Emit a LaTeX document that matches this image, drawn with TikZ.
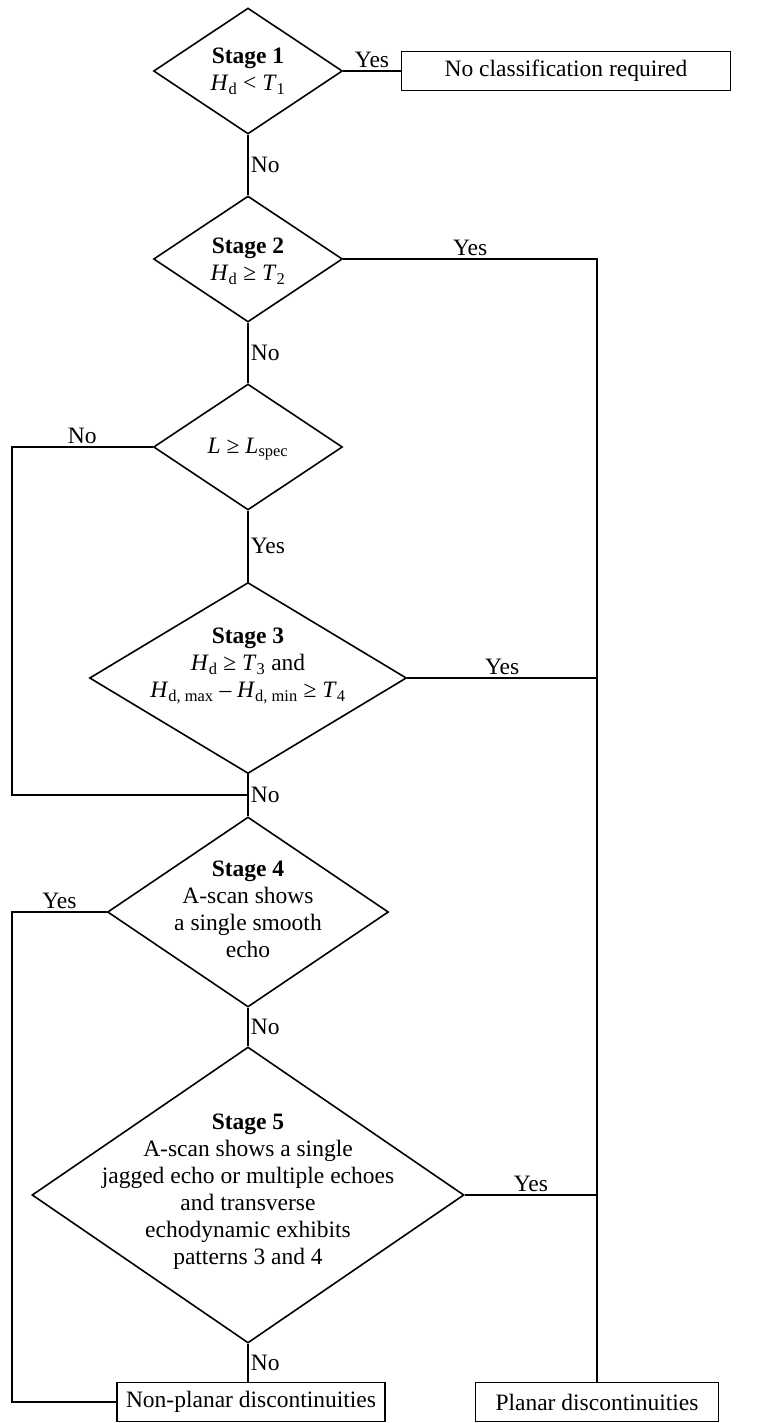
\documentclass[tikz,border=0pt]{standalone}
\usepackage{fontspec}
\setmainfont{Liberation Serif}
\usetikzlibrary{shapes.geometric,positioning,calc}
\newcommand{\vsym}[2]{\textit{#1}\textsubscript{#2}}

\begin{document}
\begin{tikzpicture}[x=1pt,y=-1pt]
            \tikzset{every node/.style={font=\fontsize{23.5}{27}\selectfont},
                     decision/.style={draw, diamond, inner sep=0pt, line width=1.6pt},
                     outcome/.style={draw, rectangle, line width=1.6pt, minimum height=39pt, inner sep=0pt},
                     flow/.style={line width=1.6pt},
                     ans/.style={inner sep=2pt}}
            \useasboundingbox (0,0) rectangle (767,1423);

            % decisions
            \node[decision, minimum width=189pt, minimum height=126pt] (s1) at (248,71) {};
            \node[align=center] (s1txt) at (248,71) {\textbf{Stage 1}\\ \vsym{H}{d} < \vsym{T}{1}};
            \node[decision, minimum width=189pt, minimum height=126pt] (s2) at (248,259) {};
            \node[align=center] (s2txt) at (248,261) {\textbf{Stage 2}\\ \vsym{H}{d} ≥ \vsym{T}{2}};
            \node[decision, minimum width=189pt, minimum height=126pt] (len) at (248,447) {};
            \node (lentxt) at (248,449) {\textit{L} ≥ \vsym{L}{spec}};
            \node[decision, minimum width=317pt, minimum height=191pt] (s3) at (248,678) {};
            \node[align=center] (s3txt) at (248,666) {\textbf{Stage 3}\\ \vsym{H}{d} ≥ \vsym{T}{3} and\\ \vsym{H}{d, max} – \vsym{H}{d, min} ≥ \vsym{T}{4}};
            \node[decision, minimum width=281pt, minimum height=190pt] (s4) at (248,912) {};
            \node[align=center] (s4txt) at (248,909) {\textbf{Stage 4}\\ A-scan shows\\ a single smooth\\ echo};
            \node[decision, minimum width=432pt, minimum height=296pt] (s5) at (248,1195) {};
            \node[align=center] (s5txt) at (248,1192) {\textbf{Stage 5}\\ A-scan shows a single\\ jagged echo or multiple echoes\\ and transverse\\ echodynamic exhibits\\ patterns 3 and 4};

            % outcomes
            \node[outcome, minimum width=329pt] (none) at (566,71) {No classification required};
            \node[outcome, minimum width=268pt] (nonplanar) at (251,1402) {Non-planar discontinuities};
            \node[outcome, minimum width=243pt] (planar) at (597,1402) {Planar discontinuities};

            \coordinate (j3) at ($(s3.south)!0.5!(s4.north)$);
            \coordinate (west) at (12,0);

            % connectors
            \draw[flow] (s1.east) -- node[ans, above] {Yes} (none.west);
            \draw[flow] (s1.south) -- node[ans, right] {No} (s2.north);
            \draw[flow] (s2.east) -| node[ans, above, pos=0.25] {Yes} (planar.north);
            \draw[flow] (s2.south) -- node[ans, right] {No} (len.north);
            \draw[flow] (len.west) -| node[ans, above, pos=0.25] {No} (west |- j3) -- (j3);
            \draw[flow] (len.south) -- node[ans, right] {Yes} (s3.north);
            \draw[flow] (s3.east) -- node[ans, above] {Yes} (s3.east -| planar.north);
            \draw[flow] (s3.south) -- node[ans, right] {No} (s4.north);
            \draw[flow] (s4.west) -| node[ans, above, pos=0.25] {Yes} (west |- nonplanar.west) -- (nonplanar.west);
            \draw[flow] (s4.south) -- node[ans, right] {No} (s5.north);
            \draw[flow] (s5.east) -- node[ans, above] {Yes} (s5.east -| planar.north);
            \draw[flow] (s5.south) -- node[ans, right] {No} (s5.south |- nonplanar.north);
        \end{tikzpicture}
\end{document}
